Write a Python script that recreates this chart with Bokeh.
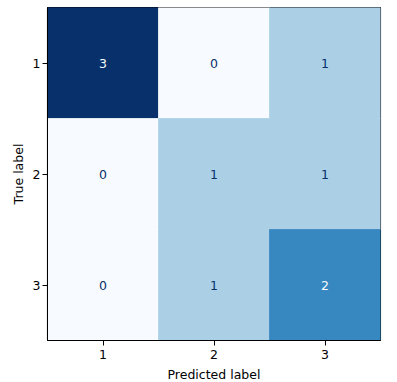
from bokeh.plotting import figure
from bokeh.models import ColumnDataSource, FixedTicker, Range1d
from bokeh.core.properties import value
from bokeh.embed import file_html
from bokeh.resources import INLINE

# Data
class_labels = [1, 2, 3]
true_labels = [1, 1, 1, 2, 2, 2, 3, 3, 3]
pred_labels = [1, 2, 3, 1, 2, 3, 1, 2, 3]
counts = [3, 0, 1, 0, 1, 1, 0, 1, 2]

blues = ["#f7fbff", "#deebf7", "#c6dbef", "#9ecae1", "#6baed6",
         "#4292c6", "#2171b5", "#08519c", "#08306b"]


def _hex(c):
    return tuple(int(c[i:i + 2], 16) for i in (1, 3, 5))


def cmap(t):
    pos = t * (len(blues) - 1)
    i = min(int(pos), len(blues) - 2)
    f = pos - i
    a, b = _hex(blues[i]), _hex(blues[i + 1])
    return "#%02x%02x%02x" % tuple(round(a[k] + f * (b[k] - a[k])) for k in range(3))


vmin, vmax = min(counts), max(counts)
fill = [cmap((c - vmin) / (vmax - vmin)) for c in counts]
thresh = (vmin + vmax) / 2
txt_col = [blues[-1] if c < thresh else blues[0] for c in counts]

src = ColumnDataSource(dict(x=pred_labels, y=true_labels, c=counts,
                            t=[str(c) for c in counts], fill=fill, tc=txt_col))

FONT = "DejaVu Sans"
FS = "12.5px"

p = figure(frame_width=333, frame_height=333, output_backend="svg",
           toolbar_location=None, x_range=Range1d(0.5, 3.5), y_range=Range1d(3.5, 0.5),
           min_border_left=47, min_border_right=9, min_border_top=7, min_border_bottom=40)
p.rect(x="x", y="y", width=1, height=1, source=src, fill_color="fill",
       line_color="fill", line_width=0.8)
p.text(x="x", y="y", text="t", source=src, text_color="tc", text_align="center",
       text_baseline="middle", text_font=value(FONT), text_font_size=FS)

p.grid.visible = False
p.outline_line_color = "black"
p.outline_line_width = 1.1
p.outline_line_alpha = 1

for ax in (p.xaxis[0], p.yaxis[0]):
    ax.ticker = FixedTicker(ticks=class_labels)
    ax.major_label_overrides = {k: str(k) for k in class_labels}
    ax.minor_tick_line_color = None
    ax.major_tick_in = 0
    ax.major_tick_out = 5
    ax.major_tick_line_color = "black"
    ax.axis_line_color = "black"
    ax.major_label_text_font = FONT
    ax.major_label_text_font_size = FS
    ax.major_label_text_color = "black"
    ax.axis_label_text_font = FONT
    ax.axis_label_text_font_size = FS
    ax.axis_label_text_font_style = "normal"
    ax.axis_label_text_color = "black"

p.yaxis.major_label_standoff = 2
p.yaxis.axis_label_standoff = 4
p.xaxis.major_label_standoff = 4
p.xaxis.axis_label_standoff = 5

p.xaxis.axis_label = "Predicted label"
p.yaxis.axis_label = "True label"
p.yaxis.major_label_orientation = "horizontal"

open("out.html", "w").write(file_html(p, INLINE))
